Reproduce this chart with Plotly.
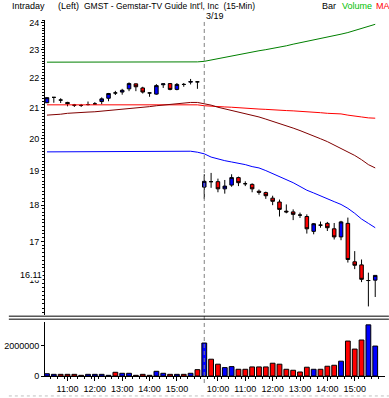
import math
import pandas as pd
import plotly.graph_objects as go

# ---------------- data ----------------
day1_times = [t.strftime("%H:%M") for t in pd.date_range("2002-03-18 10:15", "2002-03-18 15:45", freq="15min")]
day2_times = [t.strftime("%H:%M") for t in pd.date_range("2002-03-19 09:30", "2002-03-19 15:45", freq="15min")]
times = day1_times + day2_times

open_ = [21.16, 21.34, 21.25, 21.17, 21.08, 21.07, 21.10, 21.12, 21.20, 21.31, 21.49, 21.52,
         21.63, 21.80, 21.66, 21.49, 21.45, 21.77, 21.81, 21.61, 21.78, 21.86, 21.87,
         18.52, 18.68, 18.68, 18.47, 18.58, 18.80, 18.62, 18.60, 18.40, 18.36, 18.20, 18.09,
         17.83, 17.81, 17.72, 17.68, 17.27, 17.44, 17.49, 17.34, 17.12, 17.49, 16.46, 16.38,
         15.98, 15.99]
high = [21.34, 21.34, 21.31, 21.19, 21.12, 21.12, 21.20, 21.18, 21.34, 21.49, 21.56, 21.63,
        21.85, 21.81, 21.70, 21.50, 21.79, 21.81, 21.83, 21.83, 21.83, 21.97, 21.88,
        18.90, 18.94, 18.77, 18.73, 18.90, 18.83, 18.69, 18.63, 18.45, 18.39, 18.27, 18.16,
        18.02, 17.88, 17.79, 17.74, 17.50, 17.54, 17.53, 17.50, 17.56, 17.65, 16.74, 16.52,
        16.18, 16.11]
low = [21.15, 21.16, 21.15, 21.04, 21.02, 21.02, 21.07, 21.09, 21.11, 21.21, 21.42, 21.43,
       21.55, 21.55, 21.47, 21.36, 21.43, 21.66, 21.58, 21.58, 21.70, 21.78, 21.63,
       18.18, 18.50, 18.37, 18.33, 18.53, 18.55, 18.55, 18.37, 18.30, 18.18, 18.00, 17.68,
       17.77, 17.58, 17.64, 17.21, 17.19, 17.37, 17.28, 17.05, 17.03, 16.44, 16.27, 15.94,
       15.34, 15.57]
close = [21.33, 21.34, 21.25, 21.13, 21.08, 21.07, 21.10, 21.12, 21.29, 21.47, 21.49, 21.58,
         21.81, 21.70, 21.52, 21.49, 21.74, 21.80, 21.61, 21.78, 21.78, 21.88, 21.87,
         18.69, 18.68, 18.47, 18.55, 18.80, 18.65, 18.62, 18.47, 18.37, 18.27, 18.11, 17.88,
         17.81, 17.74, 17.72, 17.34, 17.48, 17.44, 17.37, 17.12, 17.53, 16.52, 16.37, 16.01,
         15.98, 16.11]

volume = [150e3, 110e3, 110e3, 110e3, 110e3, 45e3, 110e3, 110e3, 110e3, 45e3, 245e3, 180e3,
          180e3, 45e3, 110e3, 45e3, 310e3, 180e3, 110e3, 110e3, 110e3, 180e3, 420e3,
          2180e3, 1110e3, 780e3, 555e3, 620e3, 445e3, 445e3, 600e3, 600e3, 600e3, 845e3, 780e3,
          445e3, 380e3, 265e3, 580e3, 445e3, 445e3, 645e3, 710e3, 980e3, 2310e3, 1780e3, 2380e3,
          3380e3, 1980e3]
volume_up = [1, 1, 0, 0, 0, 0, 1, 1, 1, 1, 0, 1, 1, 0, 0, 0, 1, 1, 0, 1, 0, 1, 0,
             1, 0, 0, 1, 1, 0, 0, 0, 0, 0, 0, 0, 0, 0, 0, 0, 1, 0, 0, 0, 1, 0, 0, 0, 1, 1]

ma_green = [22.56] * 22 + [22.57] + [
    22.59, 22.64, 22.69, 22.74, 22.78, 22.84, 22.87, 22.92, 22.97, 23.01, 23.05, 23.10, 23.15,
    23.21, 23.26, 23.31, 23.37, 23.42, 23.46, 23.51, 23.58, 23.64, 23.72, 23.79, 23.87, 23.95]
ma_red = [21.09] * 23 + [
    21.06, 21.04, 21.03, 21.02, 21.01, 20.99, 20.98, 20.96, 20.95, 20.94, 20.92, 20.91, 20.90,
    20.89, 20.88, 20.86, 20.85, 20.83, 20.81, 20.80, 20.79, 20.75, 20.71, 20.69, 20.66, 20.65]
ma_darkred = [20.75, 20.76, 20.78, 20.81, 20.83, 20.83, 20.85, 20.86, 20.88, 20.89, 20.93, 20.94,
              20.96, 20.98, 21.00, 21.03, 21.06, 21.08, 21.10, 21.13, 21.16, 21.17, 21.17,
              21.13, 21.08, 21.01, 20.96, 20.91, 20.86, 20.81, 20.75, 20.69, 20.62, 20.55, 20.49,
              20.41, 20.33, 20.25, 20.17, 20.09, 19.99, 19.90, 19.79, 19.68, 19.59, 19.47, 19.34,
              19.19, 19.09]
ma_blue = [19.58] * 15 + [19.60] * 7 + [19.57] + [
    19.52, 19.42, 19.36, 19.31, 19.27, 19.24, 19.19, 19.13, 19.09, 19.01, 18.92, 18.82, 18.73,
    18.65, 18.54, 18.43, 18.35, 18.26, 18.19, 18.10, 18.02, 17.91, 17.77, 17.61, 17.49, 17.37]

price_ticks = [16, 17, 18, 19, 20, 21, 22, 23, 24]
volume_ticks = [0, 2000000]
hour_labels = ["11:00", "12:00", "13:00", "14:00", "15:00", "10:00", "11:00", "12:00", "13:00", "14:00", "15:00"]
day2_label = "3/19"

# ---------------- figure ----------------
idx = list(range(len(times)))
day2_start = len(day1_times)
hour_pos = [i for i, t in enumerate(times) if t.endswith(":00")]

FONT = "Liberation Sans, Arial, sans-serif"

fig = go.Figure()
for vals, col in [(ma_green, "#008000"), (ma_red, "#ff0000"), (ma_darkred, "#800000"), (ma_blue, "#0000ff")]:
    fig.add_trace(go.Scatter(x=idx, y=vals, mode="lines", line=dict(color=col, width=1),
                             xaxis="x", yaxis="y", hoverinfo="skip", showlegend=False))

fig.add_trace(go.Candlestick(
    x=idx, open=open_, high=high, low=low, close=close, xaxis="x", yaxis="y",
    increasing=dict(fillcolor="#0000ff", line=dict(color="black", width=1)),
    decreasing=dict(fillcolor="#ff0000", line=dict(color="black", width=1)),
    whiskerwidth=0, showlegend=False))

fig.add_trace(go.Bar(
    x=idx, y=volume, xaxis="x2", yaxis="y2", width=0.7,
    marker=dict(color=["#0000ff" if u else "#ff0000" for u in volume_up], line=dict(color="black", width=1)),
    showlegend=False))

T, B = 20, 21
H = 398
plot_h = H - T - B


def py(pix):
    return (H - B - pix) / plot_h


L, R = 37, 4
plot_w = 389 - L - R


def px(pix):
    return (pix - L) / plot_w


fig.update_layout(
    width=389, height=398, margin=dict(l=L, r=R, t=T, b=B),
    paper_bgcolor="white", plot_bgcolor="white", boxgap=0.26,
    font=dict(family=FONT, size=9, color="black"),
    xaxis=dict(domain=[0, 1], range=[-0.29, 49.43], anchor="y", matches="x2",
               showticklabels=False, showline=False, showgrid=False, zeroline=False,
               rangeslider=dict(visible=False)),
    yaxis=dict(domain=[py(316), 1], type="log", range=[1.17982, 1.38226], anchor="x",
               tickvals=price_ticks, ticktext=[str(v) for v in price_ticks],
               showline=True, linecolor="black", linewidth=1, ticks="outside", ticklen=3,
               tickcolor="black", showgrid=False, zeroline=False,
               minor=dict(tickvals=[round(15.2 + 0.1 * k, 1) for k in range(94)], ticks="outside",
                          ticklen=2, tickcolor="black", showgrid=False)),
    xaxis2=dict(domain=[0, 1], range=[-0.29, 49.43], anchor="y2",
                tickvals=hour_pos, ticktext=hour_labels, showline=True, linecolor="black",
                ticks="outside", ticklen=4, tickcolor="black", showgrid=False, zeroline=False,
                minor=dict(dtick=1, tick0=0.5, ticks="outside", ticklen=2, tickcolor="black"),
                tickfont=dict(size=9)),
    yaxis2=dict(domain=[0, py(323)], range=[0, 3.56e6], anchor="x2",
                tickvals=volume_ticks, ticktext=[str(v) for v in volume_ticks],
                showline=True, linecolor="black", ticks="outside", ticklen=3, tickcolor="black",
                showgrid=False, zeroline=False),
)

shapes = [
    dict(type="line", xref="x", yref="paper", x0=day2_start, x1=day2_start, y0=py(384), y1=1,
         line=dict(color="#808080", width=1, dash="4px,3px")),
    dict(type="line", xref="paper", yref="paper", x0=px(0), x1=px(389), y0=py(317), y1=py(317),
         line=dict(color="black", width=1)),
    dict(type="line", xref="paper", yref="paper", x0=px(0), x1=px(389), y0=py(320), y1=py(320),
         line=dict(color="black", width=1)),
    dict(type="line", xref="paper", yref="paper", x0=px(0), x1=px(389), y0=py(397), y1=py(397),
         line=dict(color="#c0c0c0", width=1, dash="dot")),
]
fig.update_layout(shapes=shapes)

ann = []
def txt(text, xpix, ypix, color="black", anchor="left", size=9):
    ann.append(dict(text=text, xref="paper", yref="paper", x=px(xpix), y=py(ypix), xanchor=anchor,
                    yanchor="middle", showarrow=False, borderpad=0,
                    font=dict(family=FONT, size=size, color=color)))

txt("Intraday", 2, 6)
txt("(Left)", 49, 6)
txt("GMST - Gemstar-TV Guide Int'l, Inc  (15-Min)", 76, 6, size=8.5)
txt(day2_label, 201, 16)
txt("Bar", 320, 6)
txt("Volume", 340, 6, color="#00c000")
txt("MA", 375, 6, color="#ff0000")
ann.append(dict(text=f"{close[-1]:.2f}", xref="paper", yref="y", x=px(35), y=math.log10(close[-1]),
                xanchor="right", yanchor="middle", showarrow=False, bgcolor="white", borderpad=0,
                font=dict(family=FONT, size=9, color="black")))
fig.update_layout(annotations=ann)

fig.write_html("out.html", config={"displayModeBar": False},
               post_script="document.body.style.margin='0';document.body.style.overflow='hidden';")
